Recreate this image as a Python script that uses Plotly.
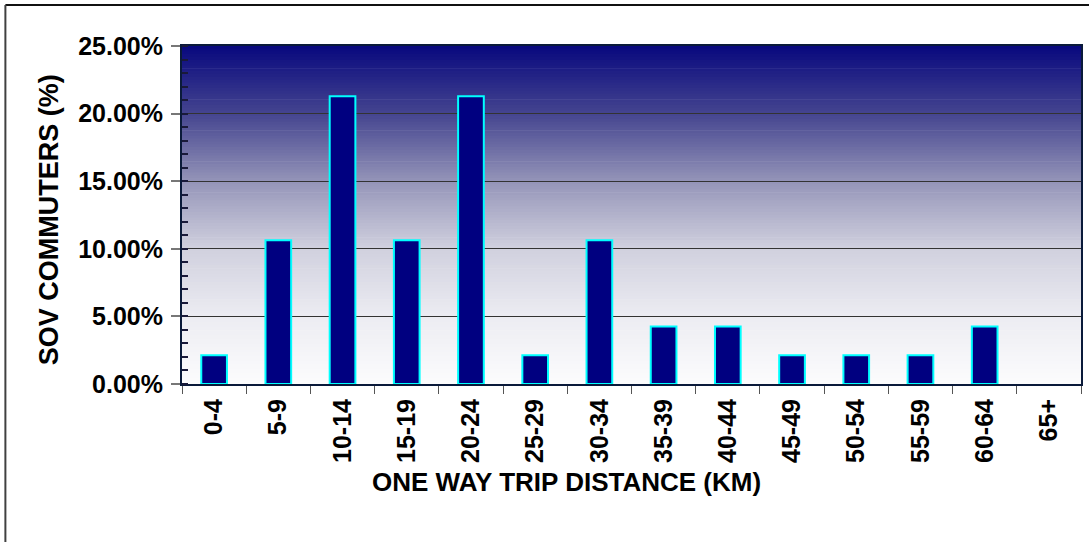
import plotly.graph_objects as go

categories = ["0-4", "5-9", "10-14", "15-19", "20-24", "25-29", "30-34",
              "35-39", "40-44", "45-49", "50-54", "55-59", "60-64", "65+"]
share_pct = [2.13, 10.64, 21.28, 10.64, 21.28, 2.13, 10.64,
             4.26, 4.26, 2.13, 2.13, 2.13, 4.26, 0.0]
values = [v / 100 for v in share_pct]

W, H = 1089, 542
L, R, T, B = 182, 6, 46, 158
pw = W - L - R
ph = H - T - B

FONT = "Liberation Sans, Arial, sans-serif"

fig = go.Figure()
fig.add_trace(go.Bar(
    x=categories, y=values,
    marker=dict(color="#000080",
                line=dict(color="#00ffff", width=[2 if v > 0 else 0 for v in values])),
    hoverinfo="x+y",
))

# vertical gradient background (navy at top -> white at bottom)
stops = [(0.0, (8, 8, 126)), (0.2, (68, 68, 143)), (0.4, (148, 148, 184)),
         (0.6, (208, 208, 222)), (0.8, (236, 236, 242)), (1.0, (252, 252, 253))]

def col_at(t):
    for (t0, c0), (t1, c1) in zip(stops[:-1], stops[1:]):
        if t0 <= t <= t1:
            f = (t - t0) / (t1 - t0)
            return "rgb(%d,%d,%d)" % tuple(round(a + (b - a) * f) for a, b in zip(c0, c1))
    return "rgb(%d,%d,%d)" % stops[-1][1]

shapes = []
N = 120
for i in range(N):
    y1 = 1 - i / N
    y0 = 1 - (i + 1) / N
    t = (i + 0.5) / N
    shapes.append(dict(type="rect", xref="paper", yref="paper", x0=0, x1=1,
                       y0=y0 - 0.001, y1=y1 + 0.001, fillcolor=col_at(t),
                       line=dict(width=0), layer="below"))

# outer chart border (left and top)
bx = (5 - L) / pw
by = (H - B - 5) / ph
shapes.append(dict(type="line", xref="paper", yref="paper", x0=bx, x1=1.1,
                   y0=by, y1=by, line=dict(color="#111111", width=2)))
shapes.append(dict(type="line", xref="paper", yref="paper", x0=bx, x1=bx,
                   y0=by, y1=-1.0, line=dict(color="#404040", width=2)))

fig.update_layout(
    width=W, height=H,
    margin=dict(l=L, r=R, t=T, b=B, pad=0),
    paper_bgcolor="white", plot_bgcolor="white",
    showlegend=False, bargap=0.6,
    font=dict(family=FONT, size=24, color="black"),
    shapes=shapes,
    annotations=[
        dict(text="<b>ONE WAY TRIP DISTANCE (KM)</b>", xref="paper", yref="paper",
             x=(567 - L) / pw, y=(H - B - 482) / ph, showarrow=False,
             xanchor="center", yanchor="middle", font=dict(size=26, family=FONT)),
        dict(text="<b>SOV COMMUTERS (%)</b>", xref="paper", yref="paper",
             x=(49 - L) / pw, y=(H - B - 220) / ph, showarrow=False, textangle=-90,
             xanchor="center", yanchor="middle", font=dict(size=27, family=FONT)),
    ],
)

fig.update_xaxes(
    type="category", tickangle=-90, tickson="boundaries",
    ticks="outside", ticklen=8, tickcolor="#555555", tickwidth=1,
    showline=True, linecolor="#0a1a3a", linewidth=2, mirror=True,
    showgrid=False, tickfont=dict(family=FONT, size=25, color="black", weight="bold"),
    ticklabelstandoff=3,
)
fig.update_yaxes(
    range=[0, 0.25], dtick=0.05, tickformat=".2%",
    ticks="outside", ticklen=9, tickcolor="#777777", tickwidth=2,
    showline=True, linecolor="#0a1a3a", linewidth=2, mirror=True,
    showgrid=True, gridcolor="#333333", gridwidth=1, zeroline=False,
    tickfont=dict(family=FONT, size=25, color="black", weight="bold"),
    ticklabelstandoff=3,
    minor=dict(dtick=0.01, ticks="inside", ticklen=6, tickcolor="#1a1a3a",
               tickwidth=2, showgrid=False),
)

fig.write_html("out.html")
